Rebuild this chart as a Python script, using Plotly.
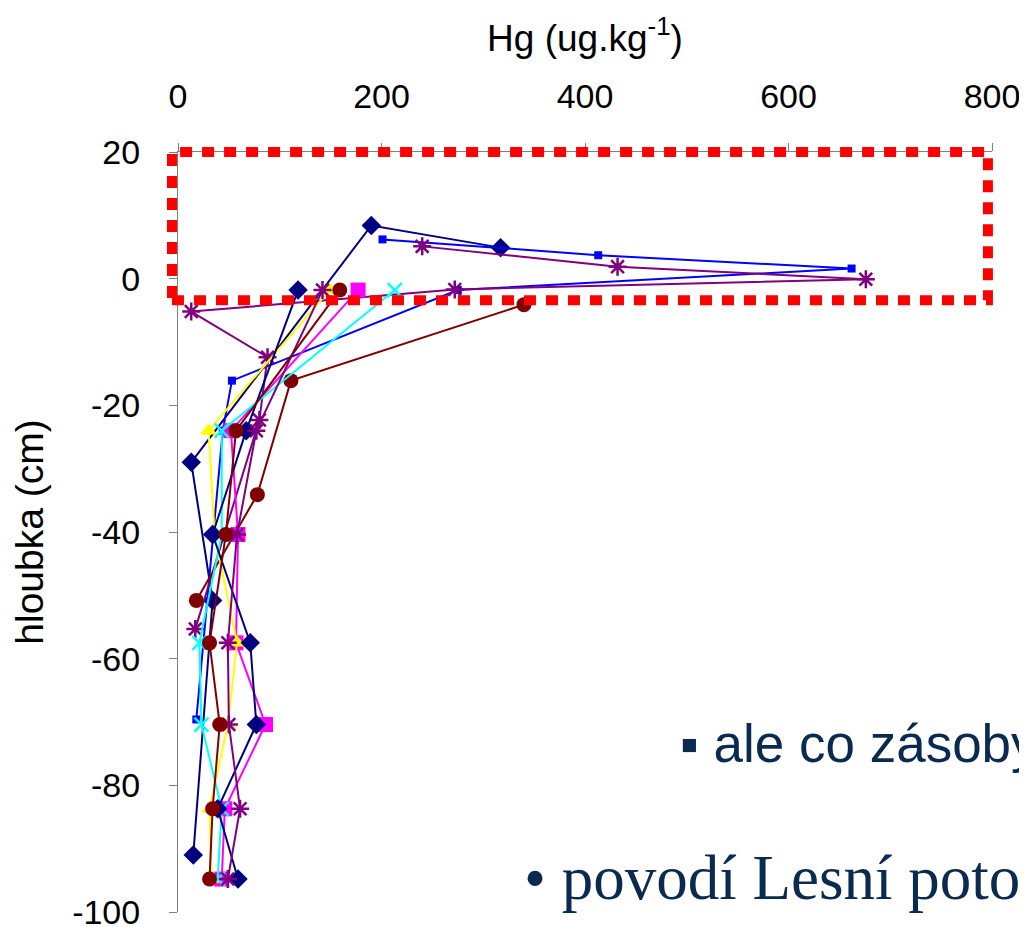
import plotly.graph_objects as go

# ---- data (Hg in ug/kg, depth in cm) ----
navyA_hg = [317, 190, 13, 34, 15]
navyA_d = [4.9, 8.4, -29, -50.8, -91]

blue_hg = [201, 413, 662, 275, 53, 44, 18]
blue_d = [6.2, 3.7, 1.6, -1.8, -16.1, -24, -69.6]

purpleA_hg = [240, 432, 676, 272, 13, 88, 80, 17]
purpleA_d = [5.1, 1.9, -0.1, -1.7, -5.2, -12.4, -22.3, -55.3]

maroonA_hg = [340, 111, 78, 18]
maroonA_d = [-4.1, -16.1, -34.1, -50.8]

std_depth = [-1.8, -24, -40.4, -57.5, -70.4, -83.7, -94.8]
magenta_hg = [177, 52, 59, 57, 86, 46, 43]
yellow_hg = [149, 30, 36, 58, 49, 31, 33]
cyan_hg = [213, 43, 43, 21, 23, 43, 39]
navyB_hg = [118, 67, 34, 71, 77, 39, 59]
purpleB_hg = [142, 77, 58, 49, 50, 61, 49]
maroonB_hg = [159, 57, 47, 31, 41, 34, 31]

x_ticks = [0, 200, 400, 600, 800]
y_ticks = [20, 0, -20, -40, -60, -80, -100]
y_ticktext = ["20", "0", "-20", "-40", "-60", "-80", "-100"]

x_title = "Hg (ug.kg<sup>-1</sup>)"
y_title = "hloubka (cm)"
note1 = "▪ ale co zásoby"
note2 = "• povodí Lesní poto"

fig = go.Figure()


def add(xs, ys, color, symbol, size, open_=False, lw=2):
    marker = dict(symbol=symbol, size=size, color=color)
    if open_:
        marker["line"] = dict(color=color, width=2.5)
    fig.add_trace(go.Scatter(x=xs, y=ys, mode="lines+markers",
                             line=dict(color=color, width=lw),
                             marker=marker, showlegend=False))


add(navyA_hg, navyA_d, "#000080", "diamond", 15)
add(blue_hg, blue_d, "#0000FF", "square", 8)
add(purpleA_hg, purpleA_d, "#800080", "asterisk-open", 15, open_=True)
add(maroonA_hg, maroonA_d, "#800000", "circle", 15)
add(magenta_hg, std_depth, "#FF00FF", "square", 15)
add(yellow_hg, std_depth, "#FFFF00", "triangle-up", 15)
add(cyan_hg, std_depth, "#00FFFF", "x-thin-open", 14, open_=True)
add(navyB_hg, std_depth, "#000080", "diamond", 15)
add(purpleB_hg, std_depth, "#800080", "asterisk-open", 15, open_=True)
add(maroonB_hg, std_depth, "#800000", "circle", 15)

tickfont = dict(family="Liberation Sans, Arial", size=34, color="black")

fig.update_layout(
    width=1027, height=927,
    margin=dict(l=170, r=43, t=144, b=23),
    plot_bgcolor="white", paper_bgcolor="white",
    xaxis=dict(range=[0, 800], side="top", tickvals=x_ticks, showgrid=False,
               zeroline=False, showline=True, linecolor="#808080", linewidth=1,
               ticks="outside", ticklen=8, tickcolor="#808080",
               tickfont=tickfont, ticklabelstandoff=21, automargin=False,
               ticklabeloverflow="allow",
               title=dict(text=x_title, standoff=14,
                          font=dict(family="Liberation Sans, Arial", size=37, color="black"))),
    yaxis=dict(range=[-100, 20], tickvals=y_ticks, ticktext=y_ticktext, showgrid=False,
               zeroline=False, showline=True, linecolor="#808080", linewidth=1,
               ticks="outside", ticklen=8, tickcolor="#808080",
               tickfont=tickfont, ticklabelstandoff=22, automargin=False,
               ticklabeloverflow="allow",
               title=dict(text=y_title, standoff=25,
                          font=dict(family="Liberation Sans, Arial", size=39, color="black"))),
)

# red dotted highlight rectangle
fig.add_shape(type="rect", xref="paper", yref="paper",
              x0=-0.0074, x1=0.995, y0=0.805, y1=1.0,
              line=dict(color="#FF0000", width=10, dash="12px,10px"))

fig.add_annotation(text=note1, xref="paper", yref="paper", x=0.614, y=0.222,
                   xanchor="left", yanchor="middle", showarrow=False,
                   font=dict(family="Liberation Sans, Arial", size=53, color="#0A2A4F"))
fig.add_annotation(text=note2, xref="paper", yref="paper", x=0.422, y=0.045,
                   xanchor="left", yanchor="middle", showarrow=False,
                   font=dict(family="Liberation Serif, Times New Roman", size=63, color="#0A2A4F"))

fig.write_html("out.html")
